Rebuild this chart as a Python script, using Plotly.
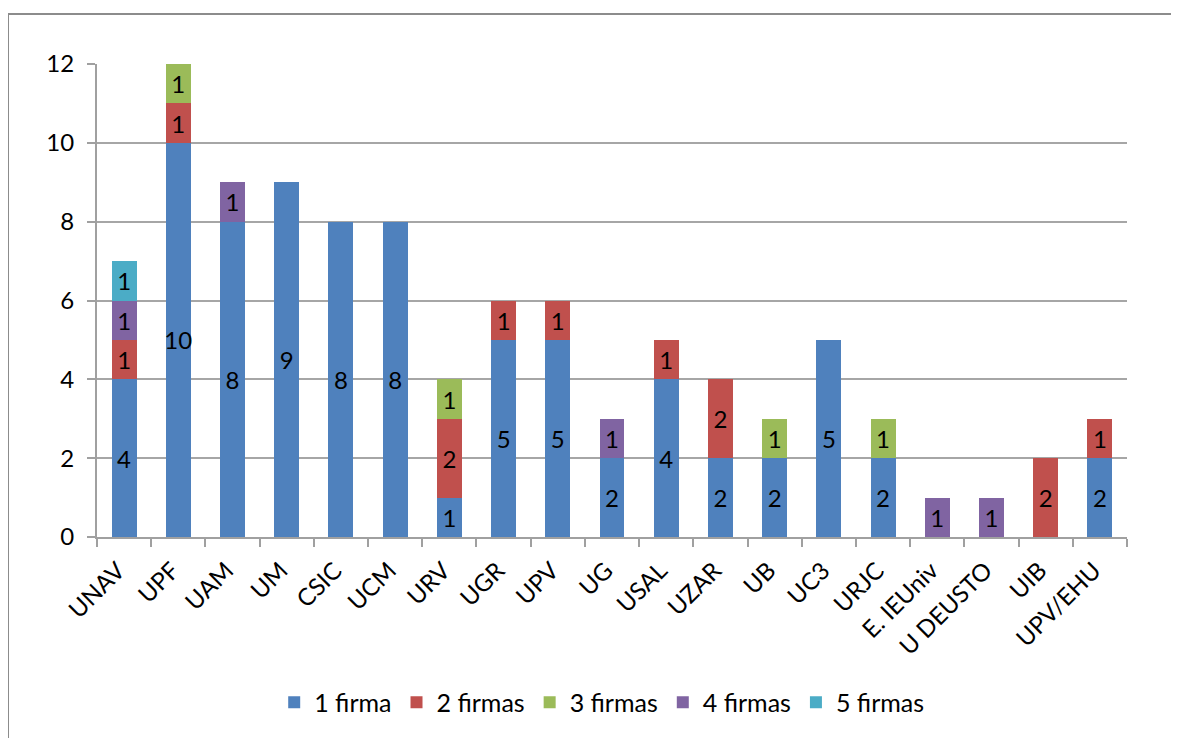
import plotly.graph_objects as go

categories = ["UNAV", "UPF", "UAM", "UM", "CSIC", "UCM", "URV", "UGR", "UPV", "UG",
              "USAL", "UZAR", "UB", "UC3", "URJC", "E. IEUniv", "U DEUSTO", "UIB", "UPV/EHU"]
firma1 = [4, 10, 8, 9, 8, 8, 1, 5, 5, 2, 4, 2, 2, 5, 2, 0, 0, 0, 2]
firma2 = [1, 1, 0, 0, 0, 0, 2, 1, 1, 0, 1, 2, 0, 0, 0, 0, 0, 2, 1]
firma3 = [0, 1, 0, 0, 0, 0, 1, 0, 0, 0, 0, 0, 1, 0, 1, 0, 0, 0, 0]
firma4 = [1, 0, 1, 0, 0, 0, 0, 0, 0, 1, 0, 0, 0, 0, 0, 1, 1, 0, 0]
firma5 = [1, 0, 0, 0, 0, 0, 0, 0, 0, 0, 0, 0, 0, 0, 0, 0, 0, 0, 0]
series_names = ["1 firma", "2 firmas", "3 firmas", "4 firmas", "5 firmas"]
y_ticks = [0, 2, 4, 6, 8, 10, 12]

colors = ["#4F81BD", "#C0504D", "#9BBB59", "#8064A2", "#4BACC6"]
FONT = "Lato, 'Open Sans', sans-serif"

fig = go.Figure()
for name, vals, col in zip(series_names, [firma1, firma2, firma3, firma4, firma5], colors):
    yv = [v if v else None for v in vals]
    fig.add_trace(go.Bar(
        x=categories, y=yv, name=name,
        marker=dict(color=col, line=dict(width=0)),
        text=[str(v) if v else "" for v in vals],
        textposition="inside", insidetextanchor="middle", textangle=0,
        textfont=dict(family=FONT, size=24, color="black"),
        constraintext="none", cliponaxis=False,
    ))

fig.update_layout(
    barmode="stack",
    bargap=0.54,
    width=1171, height=730,
    margin=dict(l=89, r=52, t=56, b=201),
    paper_bgcolor="white", plot_bgcolor="white",
    font=dict(family=FONT, size=24, color="black"),
    uniformtext=dict(mode=False),
    showlegend=True,
    legend=dict(orientation="h", x=0.49, xanchor="center", y=-0.35, yanchor="middle",
                font=dict(family=FONT, size=25, color="black"),
                itemwidth=30, traceorder="normal"),
    xaxis=dict(
        type="category", tickangle=-45, tickfont=dict(family=FONT, size=24),
        showline=True, linecolor="#A0A0A0", linewidth=2,
        ticks="outside", tickson="boundaries", ticklen=8, tickcolor="#A0A0A0", tickwidth=2,
        showgrid=False, ticklabelshift=-6, ticklabelstandoff=8,
    ),
    yaxis=dict(
        range=[0, 12], tickvals=y_ticks, tickfont=dict(family=FONT, size=24),
        showline=True, linecolor="#A0A0A0", linewidth=2,
        ticks="outside", ticklen=8, tickcolor="#A0A0A0", tickwidth=2,
        showgrid=True, gridcolor="#A6A6A6", gridwidth=2, zeroline=False,
        ticklabelstandoff=8,
    ),
)

# outer chart frame (left and top edges visible)
fig.add_shape(type="line", xref="paper", yref="paper", x0=-0.0864, x1=1.2, y0=1.1057, y1=1.1057,
              line=dict(color="#8C8C8C", width=2))
fig.add_shape(type="line", xref="paper", yref="paper", x0=-0.0864, x1=-0.0864, y0=-0.6, y1=1.1057,
              line=dict(color="#8C8C8C", width=2))

fig.write_html("out.html")
